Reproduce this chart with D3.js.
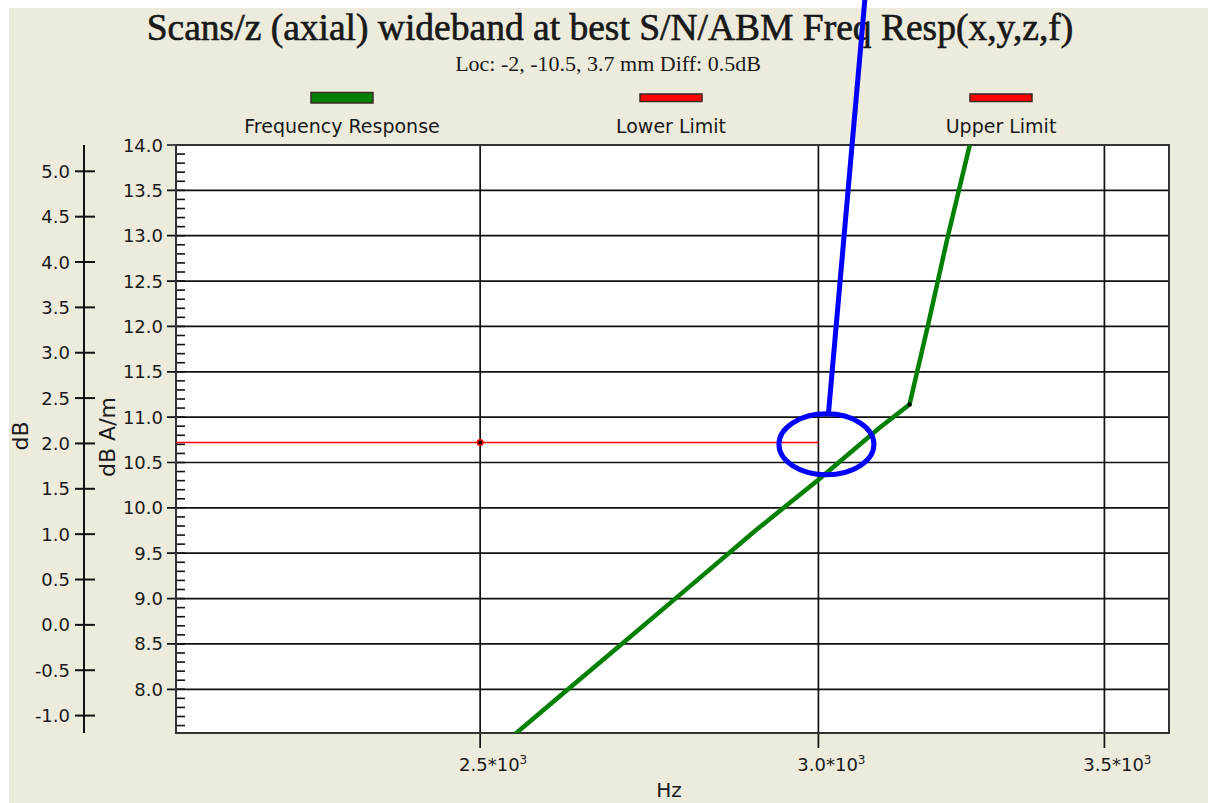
<!DOCTYPE html>
<html>
<head>
<meta charset="utf-8">
<script src="https://cdn.jsdelivr.net/npm/d3@7"></script>
<style>
  html, body { margin: 0; padding: 0; background: #fff; }
  svg { display: block; }
  text { font-family: "DejaVu Sans", sans-serif; fill: #1a1a1a; }
  .serif { font-family: "Liberation Serif", "Times New Roman", serif; }
</style>
</head>
<body>
<div id="chart"></div>
<script>
// testi
const chartTitle = "Scans/z (axial) wideband at best S/N/ABM Freq Resp(x,y,z,f)";
const chartSubtitle = "Loc: -2, -10.5, 3.7 mm Diff: 0.5dB";
const xTitle = "Hz";
const yTitle = "dB A/m";
const y2Title = "dB";

// legenda
const legendNames = ["Frequency Response", "Lower Limit", "Upper Limit"];
const legendColors = ["#008000", "#ff0000", "#ff0000"];

// Frequency Response (Hz, dB A/m)
const respFreq = [2500, 2600, 2700, 2800, 2900, 3000, 3100, 3151, 3182, 3217, 3255, 3300];
const respValue = [7.18, 7.86, 8.51, 9.14, 9.75, 10.31, 10.88, 11.14, 12.0, 13.0, 14.0, 15.2];
const respMarker = [3151, 11.14];

// Lower Limit
const lowerFreq = [2000, 2500, 3000];
const lowerValue = [10.72, 10.72, 10.72];
const lowerMarker = [2500, 10.72];

// assi
const xDomain = [2122, 3624];
const xTicks = [2500, 3000, 3500];
const xTickLabels = ["2.5*10", "3.0*10", "3.5*10"];
const yDomain = [7.518, 14.0];
const yTicks = [8.0, 8.5, 9.0, 9.5, 10.0, 10.5, 11.0, 11.5, 12.0, 12.5, 13.0, 13.5, 14.0];
const dbOffset = 8.71; // dB = dB A/m - offset
const y2Ticks = [-1.0, -0.5, 0.0, 0.5, 1.0, 1.5, 2.0, 2.5, 3.0, 3.5, 4.0, 4.5, 5.0];

// annotazione (cerchio blu)
const noteCenter = [3013, 10.70];
const noteLineTop = [3076, 15.60];

const width = 1208, height = 803;
const plot = { left: 176, top: 145, right: 1169, bottom: 733 };
const fmt = d => d3.format(".1f")(d).replace("\u2212", "-");

const svg = d3.select("#chart").append("svg")
    .attr("width", width)
    .attr("height", height);

// sfondo
svg.append("rect").attr("width", width).attr("height", height).attr("fill", "#fff");
svg.append("rect").attr("x", 9).attr("y", 8).attr("width", width - 9).attr("height", height - 8)
    .attr("fill", "#ecebdc");

const x = d3.scaleLog().domain(xDomain).range([plot.left, plot.right]);
const y = d3.scaleLinear().domain(yDomain).range([plot.bottom, plot.top]);
const y2 = d3.scaleLinear().domain([yDomain[0] - dbOffset, yDomain[1] - dbOffset]).range([plot.bottom, plot.top]);

// area del grafico
svg.append("rect")
    .attr("x", plot.left).attr("y", plot.top)
    .attr("width", plot.right - plot.left).attr("height", plot.bottom - plot.top)
    .attr("fill", "#fff");

svg.append("clipPath").attr("id", "clip")
    .append("rect")
    .attr("x", plot.left).attr("y", plot.top)
    .attr("width", plot.right - plot.left).attr("height", plot.bottom - plot.top);

// griglia
const grid = svg.append("g").attr("stroke", "#111").attr("stroke-width", 1.7);
grid.selectAll(".hg").data(yTicks).join("line")
    .attr("x1", plot.left - 9).attr("x2", plot.right)
    .attr("y1", d => y(d)).attr("y2", d => y(d));
grid.selectAll(".vg").data(xTicks).join("line")
    .attr("x1", d => x(d)).attr("x2", d => x(d))
    .attr("y1", plot.top).attr("y2", plot.bottom + 15);

// tacche minori asse principale
const minor = d3.range(75, 141).map(d => d / 10).filter(d => y(d) >= plot.top && y(d) <= plot.bottom);
svg.append("g").attr("stroke", "#111").attr("stroke-width", 1.6)
    .selectAll("line").data(minor).join("line")
    .attr("x1", plot.left).attr("x2", plot.left + 9)
    .attr("y1", d => y(d)).attr("y2", d => y(d));

// bordo
svg.append("rect")
    .attr("x", plot.left).attr("y", plot.top)
    .attr("width", plot.right - plot.left).attr("height", plot.bottom - plot.top)
    .attr("fill", "none").attr("stroke", "#333").attr("stroke-width", 2);

// etichette asse y principale
svg.append("g").attr("font-size", 18).attr("text-anchor", "end")
    .selectAll("text").data(yTicks).join("text")
    .attr("x", plot.left - 13).attr("y", d => y(d) + 6.5)
    .text(fmt);

// asse y secondario (dB)
const ax2 = 84;
svg.append("line").attr("x1", ax2).attr("x2", ax2).attr("y1", plot.top).attr("y2", plot.bottom)
    .attr("stroke", "#111").attr("stroke-width", 2);
svg.append("g").attr("stroke", "#111").attr("stroke-width", 2)
    .selectAll("line").data(y2Ticks).join("line")
    .attr("x1", ax2 - 9).attr("x2", ax2 + 11)
    .attr("y1", d => y2(d)).attr("y2", d => y2(d));
svg.append("g").attr("font-size", 18).attr("text-anchor", "end")
    .selectAll("text").data(y2Ticks).join("text")
    .attr("x", ax2 - 14).attr("y", d => y2(d) + 6.5)
    .text(fmt);

// etichette asse x
const xl = svg.append("g").attr("font-size", 18).attr("text-anchor", "middle")
    .selectAll("text").data(xTicks).join("text")
    .attr("x", d => x(d) + 13).attr("y", 771);
xl.append("tspan").text((d, i) => xTickLabels[i]);
xl.append("tspan").attr("dy", -7).attr("font-size", 12).text("3");

// titoli assi
svg.append("text").attr("x", 669).attr("y", 797).attr("text-anchor", "middle")
    .attr("font-size", 20).text(xTitle);
svg.append("text").attr("transform", "translate(115,437) rotate(-90)")
    .attr("text-anchor", "middle").attr("font-size", 22).text(yTitle);
svg.append("text").attr("transform", "translate(28,436) rotate(-90)")
    .attr("text-anchor", "middle").attr("font-size", 22).text(y2Title);

// titolo
svg.append("text").attr("class", "serif").attr("x", 610).attr("y", 40)
    .attr("text-anchor", "middle").attr("font-size", 37.5)
    .attr("fill", "#111").attr("stroke", "#111").attr("stroke-width", 0.6)
    .text(chartTitle);
svg.append("text").attr("class", "serif").attr("x", 608).attr("y", 71)
    .attr("text-anchor", "middle").attr("font-size", 22).text(chartSubtitle);

// legenda
const legendX = [342, 671, 1001];
const lg = svg.append("g").selectAll("g").data(legendNames).join("g")
    .attr("transform", (d, i) => `translate(${legendX[i]},0)`);
lg.append("rect")
    .attr("x", -31).attr("y", (d, i) => i === 0 ? 92.5 : 94)
    .attr("width", 62).attr("height", (d, i) => i === 0 ? 10.5 : 7.5)
    .attr("fill", (d, i) => legendColors[i])
    .attr("stroke", "#3a2a2a").attr("stroke-width", 1.5);
lg.append("text").attr("y", 133).attr("text-anchor", "middle").attr("font-size", 19).text(d => d);

// serie
const series = svg.append("g").attr("clip-path", "url(#clip)");
const line = d3.line().x(d => x(d[0])).y(d => y(d[1]));

series.append("path")
    .datum(lowerFreq.map((f, i) => [f, lowerValue[i]]))
    .attr("d", line)
    .attr("fill", "none").attr("stroke", legendColors[1]).attr("stroke-width", 1.6);

series.append("path")
    .datum(respFreq.map((f, i) => [f, respValue[i]]))
    .attr("d", line)
    .attr("fill", "none").attr("stroke", legendColors[0]).attr("stroke-width", 4.5)
    .attr("stroke-linejoin", "round");

// marcatori
series.append("circle").attr("cx", x(lowerMarker[0])).attr("cy", y(lowerMarker[1])).attr("r", 2.8)
    .attr("fill", "#000").attr("stroke", "#ff0000").attr("stroke-width", 1.5);
series.append("circle").attr("cx", x(respMarker[0])).attr("cy", y(respMarker[1])).attr("r", 2.2)
    .attr("fill", "#000");

// annotazione
const cx = x(noteCenter[0]), cy = y(noteCenter[1]);
const rx = 47.5, ry = 30.5;
svg.append("line")
    .attr("x1", x(noteLineTop[0])).attr("y1", y(noteLineTop[1]))
    .attr("x2", cx + 2).attr("y2", cy - ry)
    .attr("stroke", "#0000ff").attr("stroke-width", 5);
svg.append("ellipse")
    .attr("cx", cx).attr("cy", cy).attr("rx", rx).attr("ry", ry)
    .attr("fill", "none").attr("stroke", "#0000ff").attr("stroke-width", 5);
</script>
</body>
</html>
